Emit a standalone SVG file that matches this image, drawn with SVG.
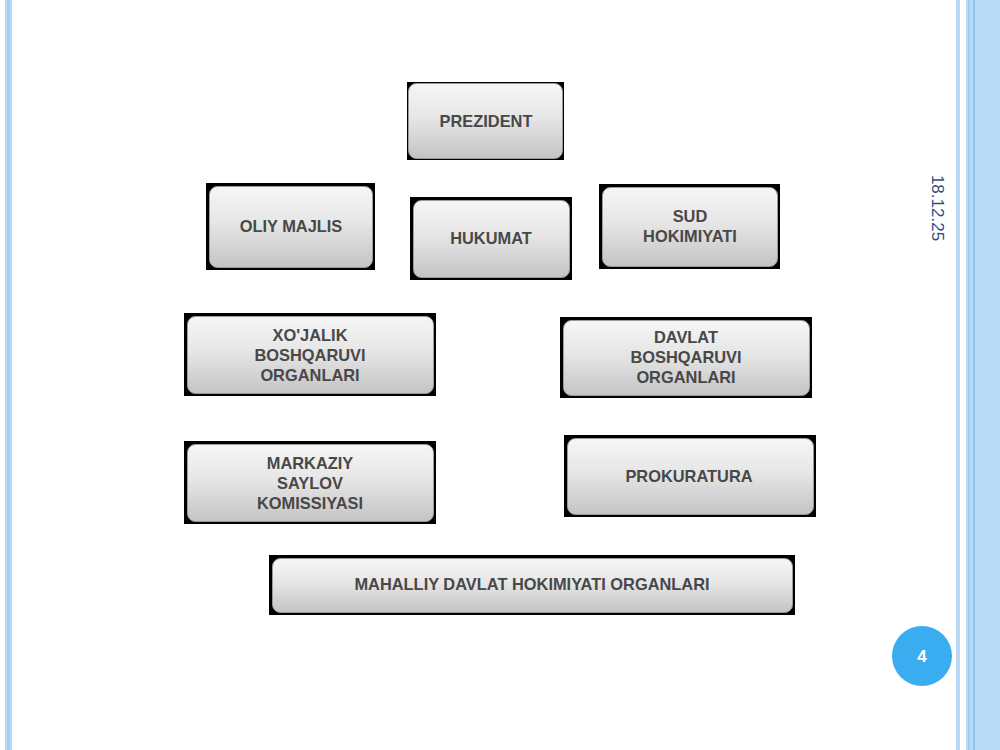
<svg xmlns="http://www.w3.org/2000/svg" width="1000" height="750" viewBox="0 0 1000 750">
<defs>
<linearGradient id="g" x1="0" y1="0" x2="0" y2="1">
<stop offset="0" stop-color="#f6f6f6"/>
<stop offset="0.45" stop-color="#e6e6e6"/>
<stop offset="1" stop-color="#c4c4c4"/>
</linearGradient>
<style>
.o{fill:#000}
.i{fill:url(#g);stroke:#9a9a9a;stroke-width:1}
.t{font-family:"Liberation Sans",Arial,sans-serif;font-weight:bold;font-size:16.4px;fill:#484848;text-anchor:middle}
</style>
</defs>
<rect width="1000" height="750" fill="#fff"/>
<rect x="5" y="0" width="7" height="750" fill="#b7d9f7"/>
<rect x="7" y="0" width="3" height="750" fill="#a6cff3"/>
<rect x="956" y="0" width="4" height="750" fill="#b7d9f7"/>
<rect x="966" y="0" width="34" height="750" fill="#b9dbf8"/>
<rect x="968" y="0" width="2" height="750" fill="#a2ccf2"/>
<rect x="973" y="0" width="2" height="750" fill="#8ec2ef"/>
<g id="prezident"><rect class="o" x="407" y="82" width="157" height="78"/><rect class="i" x="408.5" y="83.5" width="154" height="75" rx="8"/><text class="t" x="486" y="127">PREZIDENT</text></g>
<g id="oliy-majlis"><rect class="o" x="206" y="183" width="169" height="87"/><rect class="i" x="209.5" y="186.5" width="163" height="81" rx="8"/><text class="t" x="291" y="232">OLIY MAJLIS</text></g>
<g id="hukumat"><rect class="o" x="410" y="197" width="162" height="83"/><rect class="i" x="413.5" y="200.5" width="156" height="77" rx="8"/><text class="t" x="491" y="244">HUKUMAT</text></g>
<g id="sud"><rect class="o" x="599" y="184" width="181" height="85"/><rect class="i" x="602.5" y="187.5" width="175" height="79" rx="8"/><text class="t" x="690" y="222">SUD</text><text class="t" x="690" y="242">HOKIMIYATI</text></g>
<g id="xojalik"><rect class="o" x="184" y="313" width="252" height="83"/><rect class="i" x="187.5" y="316.5" width="246" height="77" rx="8"/><text class="t" x="310" y="341">XO'JALIK</text><text class="t" x="310" y="361">BOSHQARUVI</text><text class="t" x="310" y="381">ORGANLARI</text></g>
<g id="davlat"><rect class="o" x="560" y="317" width="252" height="81"/><rect class="i" x="563.5" y="320.5" width="246" height="75" rx="8"/><text class="t" x="686" y="343">DAVLAT</text><text class="t" x="686" y="363">BOSHQARUVI</text><text class="t" x="686" y="383">ORGANLARI</text></g>
<g id="markaziy"><rect class="o" x="184" y="441" width="252" height="83"/><rect class="i" x="187.5" y="444.5" width="246" height="77" rx="8"/><text class="t" x="310" y="469">MARKAZIY</text><text class="t" x="310" y="489">SAYLOV</text><text class="t" x="310" y="509">KOMISSIYASI</text></g>
<g id="prokuratura"><rect class="o" x="564" y="435" width="252" height="82"/><rect class="i" x="567.5" y="438.5" width="246" height="76" rx="8"/><text class="t" x="689" y="482">PROKURATURA</text></g>
<g id="mahalliy"><rect class="o" x="269" y="555" width="526" height="60"/><rect class="i" x="272.5" y="558.5" width="520" height="54" rx="8"/><text class="t" x="532" y="590">MAHALLIY DAVLAT HOKIMIYATI ORGANLARI</text></g>
<g id="connectors"></g>
<text x="932" y="208" transform="rotate(90 932 208)" font-family="'Liberation Sans',Arial,sans-serif" font-size="17" fill="#2a4f86" text-anchor="middle">18.12.25</text>
<g id="page-number"><circle cx="922" cy="656" r="30" fill="#3aacf0"/><text x="922" y="662" font-family="'Liberation Sans',Arial,sans-serif" font-weight="bold" font-size="17" fill="#fff" text-anchor="middle">4</text></g>
</svg>
